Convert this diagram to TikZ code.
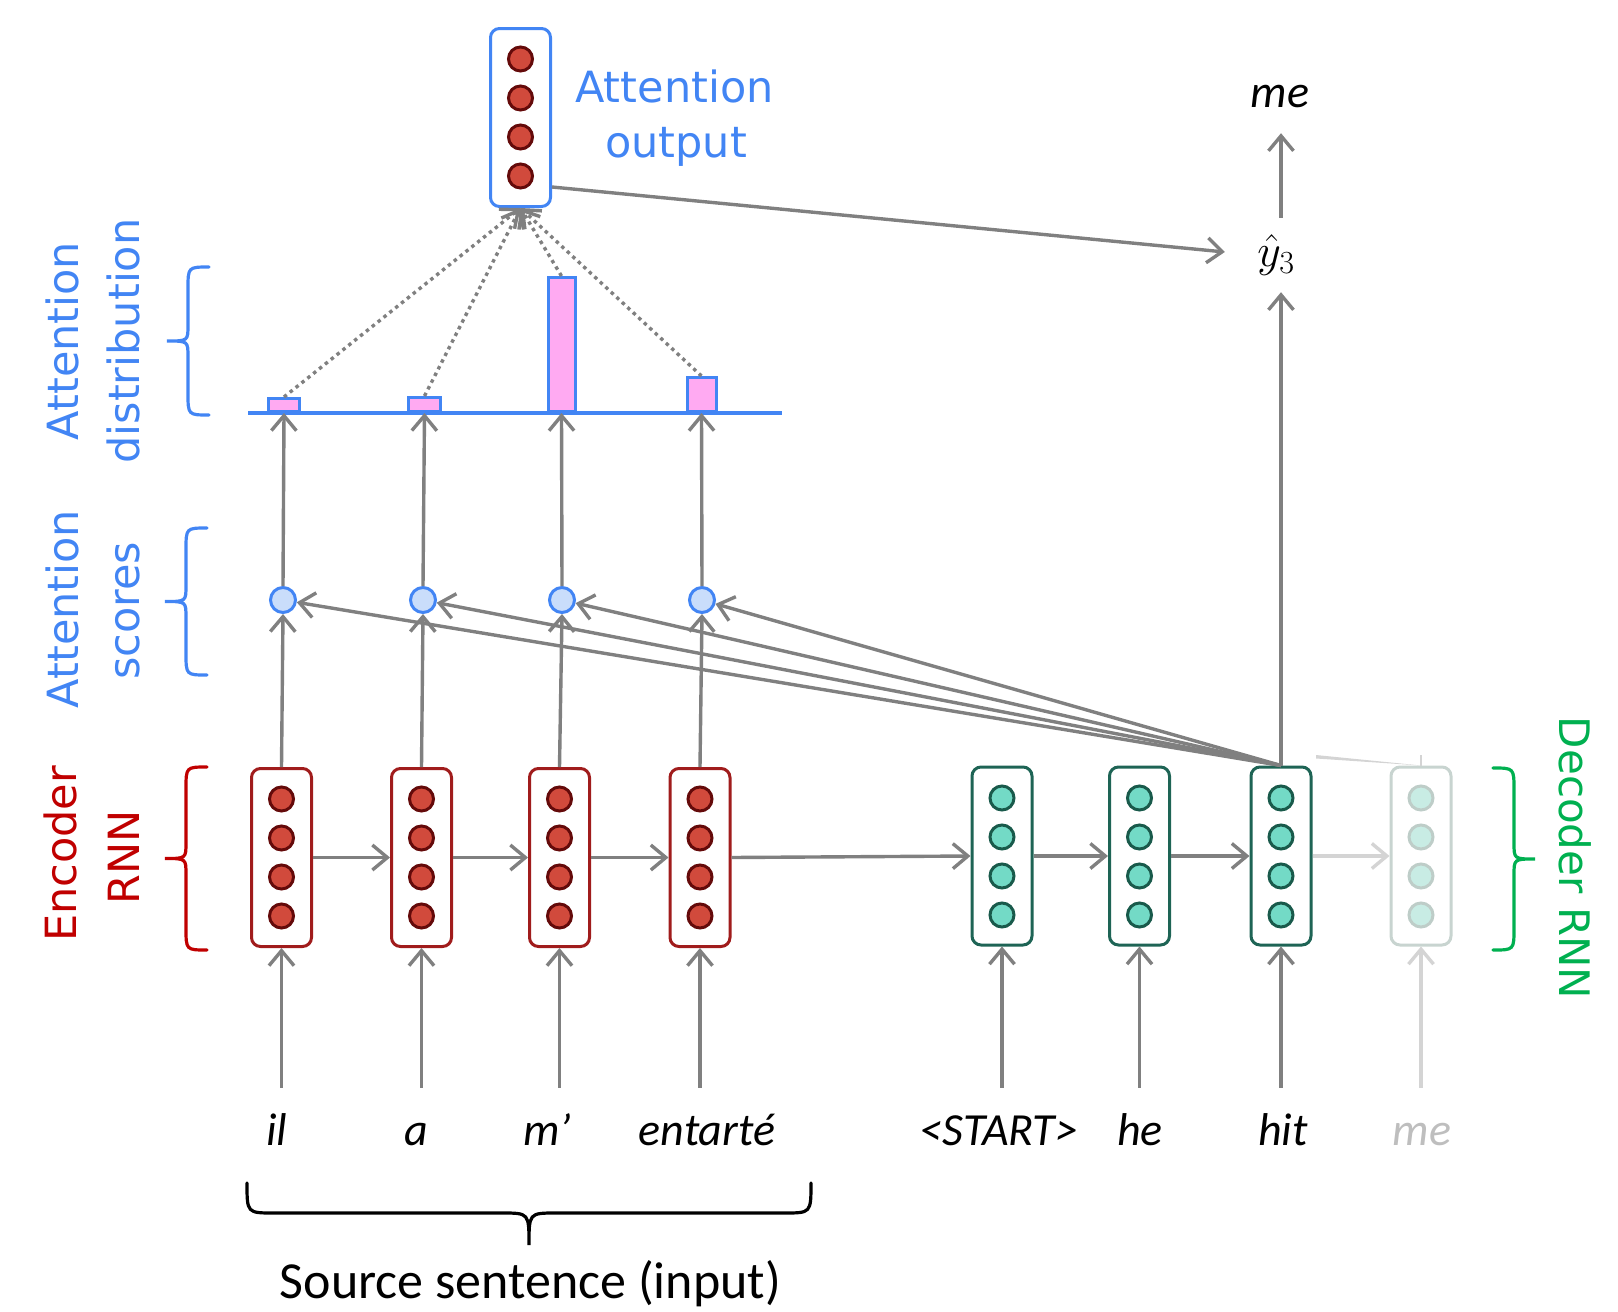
\RequirePackage{fix-cm}
\documentclass[tikz,border=0pt]{standalone}
\usepackage{fontspec}
\usetikzlibrary{arrows.meta}
\newfontfamily\carlito{Carlito}
\newfontfamily\dejavu{DejaVu Sans}
\definecolor{arrgray}{RGB}{128,128,128}
\definecolor{faintgray}{RGB}{212,212,212}
\definecolor{labblue}{RGB}{66,133,244}
\definecolor{labred}{RGB}{192,0,0}
\definecolor{labgreen}{RGB}{0,176,80}
\definecolor{encborder}{RGB}{160,28,28}
\definecolor{enccfill}{RGB}{209,74,60}
\definecolor{enccdraw}{RGB}{100,10,10}
\definecolor{decborder}{RGB}{30,100,85}
\definecolor{deccfill}{RGB}{115,218,198}
\definecolor{deccdraw}{RGB}{25,90,75}
\definecolor{fadeborder}{RGB}{200,212,208}
\definecolor{fadecfill}{RGB}{200,236,228}
\definecolor{fadecdraw}{RGB}{190,205,200}
\definecolor{scorefill}{RGB}{201,221,251}
\definecolor{barpink}{RGB}{255,170,242}
\definecolor{fadetext}{RGB}{190,190,190}

\newcommand{\vbraceL}[6]{% style, x arms, x line, x tip, y top, y bottom
  \draw[#1] (#2,#5) .. controls (#3,#5) .. (#3,{#5+22})
    -- (#3,{(#5+#6)/2-16}) .. controls (#3,{(#5+#6)/2}) .. (#4,{(#5+#6)/2})
    .. controls (#3,{(#5+#6)/2}) .. (#3,{(#5+#6)/2+16})
    -- (#3,{#6-22}) .. controls (#3,#6) .. (#2,#6);
}

\begin{document}
\begin{tikzpicture}[x=1pt,y=-1pt,
  arr/.style={draw=arrgray, line width=3.4pt, -{Straight Barb[length=15pt,width=25pt]}},
  faintarr/.style={arr, draw=faintgray},
  dotarr/.style={arr, dash pattern=on 3.5pt off 4pt},
  anybox/.style={rectangle, line width=3pt, rounded corners=9pt, minimum width=60pt, minimum height=178pt, fill=white, inner sep=0pt},
  encbox/.style={anybox, draw=encborder},
  decbox/.style={anybox, draw=decborder},
  fadebox/.style={anybox, draw=fadeborder},
  outbox/.style={anybox, draw=labblue},
  anycirc/.style={circle, line width=3pt, minimum size=24pt, inner sep=0pt},
  enccirc/.style={anycirc, draw=enccdraw, fill=enccfill},
  deccirc/.style={anycirc, draw=deccdraw, fill=deccfill},
  fadecirc/.style={anycirc, draw=fadecdraw, fill=fadecfill},
  score/.style={circle, line width=3pt, draw=labblue, fill=scorefill, minimum size=25pt, inner sep=0pt},
  bar/.style={rectangle, line width=3pt, draw=labblue, fill=barpink, anchor=south, inner sep=0pt},
  word/.style={anchor=base, font=\carlito\itshape\fontsize{46}{50}\selectfont, text height=33pt, text depth=10pt, inner xsep=0pt, inner ysep=24pt},
  bluelab/.style={anchor=base, text=labblue, font=\dejavu\fontsize{43}{50}\selectfont, inner sep=0pt},
  redlab/.style={bluelab, text=labred},
  greenlab/.style={bluelab, text=labgreen, font=\dejavu\fontsize{42}{50}\selectfont},
  bracestyle/.style={line width=3.2pt, line cap=round}
]
\useasboundingbox (0,0) rectangle (1618,1312);

% ---------- encoder ----------
\foreach \n/\x in {1/281.5,2/421.5,3/559.5,4/700} {
  \node[encbox] (e\n) at (\x,857.5) {};
  \foreach \k/\dy in {1/-58.5,2/-19.5,3/19.5,4/58.5}
    \node[enccirc] (e\n c\k) at (\x,{857.5+(\dy)}) {};
}
% ---------- decoder ----------
\foreach \n/\x in {1/1002,2/1139.5,3/1281} {
  \node[decbox] (d\n) at (\x,856) {};
  \foreach \k/\dy in {1/-58,2/-19,3/20,4/59}
    \node[deccirc] (d\n c\k) at (\x,{856+(\dy)}) {};
}
\node[fadebox] (d4) at (1421,856) {};
\foreach \k/\dy in {1/-58,2/-19,3/20,4/59}
  \node[fadecirc] (d4c\k) at (1421,{856+(\dy)}) {};

% ---------- attention output ----------
\node[outbox] (out) at (520.5,117.5) {};
\foreach \k/\dy in {1/-58.5,2/-19.5,3/19.5,4/58.5}
  \node[enccirc] (outc\k) at (520.5,{117.5+(\dy)}) {};
\node[bluelab] (outlab1) at (674.5,102) {Attention};
\node[bluelab] (outlab2) at (676,157) {output};

% ---------- scores ----------
\node[score] (s1) at (283,600) {};
\node[score] (s2) at (423,600) {};
\node[score] (s3) at (562,600) {};
\node[score] (s4) at (702,600) {};

% ---------- distribution ----------
\coordinate (axL) at (248,413);
\coordinate (axR) at (782,413);
\node[bar, minimum width=31pt, minimum height=13pt] (b1) at (284,413) {};
\node[bar, minimum width=32pt, minimum height=14pt] (b2) at (424.5,413) {};
\node[bar, minimum width=27pt, minimum height=134pt] (b3) at (561.5,413) {};
\node[bar, minimum width=29pt, minimum height=34pt] (b4) at (701.5,413) {};
\draw[draw=labblue, line width=3.2pt] (axL) -- (axR);

% ---------- words ----------
\node[word] (w1) at (277,1145) {il};
\node[word] (w2) at (416,1145) {a};
\node[word] (w3) at (547,1145) {m’};
\node[word] (w4) at (707,1145) {entarté};
\node[word] (w5) at (999,1145) {<START>};
\node[word] (w6) at (1140,1145) {he};
\node[word] (w7) at (1283,1145) {hit};
\node[word, text=fadetext] (w8) at (1422,1145) {me};

% ---------- outputs ----------
\node[font=\fontsize{46}{50}\selectfont, minimum width=102pt, minimum height=74pt, inner sep=0pt] (yhat) at (1276,255) {$\hat{y}_3$};
\node[font=\carlito\itshape\fontsize{46}{50}\selectfont, minimum height=72pt, inner sep=0pt] (me) at (1280,97) {me};

% ---------- connectors ----------
\foreach \n in {1,2,3,4} {
  \draw[arr] (w\n.north -| e\n.south) -- (e\n.south);
  \draw[arr] (e\n.north) -- (s\n.south);
  \draw[arr] (s\n.north) -- (b\n.south);
  \draw[dotarr] (b\n.north) -- (out.south);
}
\draw[arr] (w5.north -| d1.south) -- (d1.south);
\draw[arr] (w6.north -| d2.south) -- (d2.south);
\draw[arr] (w7.north -| d3.south) -- (d3.south);
\draw[faintarr] (w8.north -| d4.south) -- (d4.south);

\draw[arr] (e1.east) -- (e2.west);
\draw[arr] (e2.east) -- (e3.west);
\draw[arr] (e3.east) -- (e4.west);
\draw[arr] (e4.east) -- (d1.west);
\draw[arr] (d1.east) -- (d2.west);
\draw[arr] (d2.east) -- (d3.west);
\draw[faintarr] (d3.east) -- (d4.west);

\fill[faintgray] (1316,755) -- (d4.north) -- (1316,758.5) -- cycle;
\draw[faintgray, line width=2.5pt] (d4.north) -- ++(0,-11);

\foreach \n in {1,2,3,4}
  \draw[arr] (d3.north) -- (s\n);

\draw[arr] (d3.north) -- (d3.north |- yhat.south);
\draw[arr] (yhat.north -| d3.north) -- (me.south -| d3.north);
\draw[arr] ([yshift=21pt]out.south east) -- ([yshift=3pt]yhat.west);

% ---------- braces and side labels ----------
\vbraceL{bracestyle, draw=labblue}{209}{188}{167}{267}{415}
\node[bluelab, rotate=90] (distlab1) at (78,341) {Attention};
\node[bluelab, rotate=90] (distlab2) at (139,341) {distribution};

\vbraceL{bracestyle, draw=labblue}{207}{186}{165}{528}{675}
\node[bluelab, rotate=90] (scorelab1) at (78,609) {Attention};
\node[bluelab, rotate=90] (scorelab2) at (139,611) {scores};

\vbraceL{bracestyle, draw=labred}{207}{186}{165}{767}{950}
\node[redlab, rotate=90] (enclab1) at (76,854) {Encoder};
\node[redlab, rotate=90] (enclab2) at (139,857) {RNN};

\vbraceL{bracestyle, draw=labgreen}{1493}{1514}{1535}{768}{950}
\node[greenlab, rotate=-90] (declab) at (1559,858) {Decoder RNN};

\draw[bracestyle, draw=black] (247,1183) .. controls (247,1213) .. (274,1213)
  -- (502,1213) .. controls (529,1213) .. (529,1245)
  .. controls (529,1213) .. (556,1213) -- (784,1213)
  .. controls (811,1213) .. (811,1183);
\node[anchor=base, inner sep=0pt, font=\carlito\fontsize{52}{60}\selectfont] (srclab) at (530.5,1298) {Source sentence (input)};
\end{tikzpicture}
\end{document}
